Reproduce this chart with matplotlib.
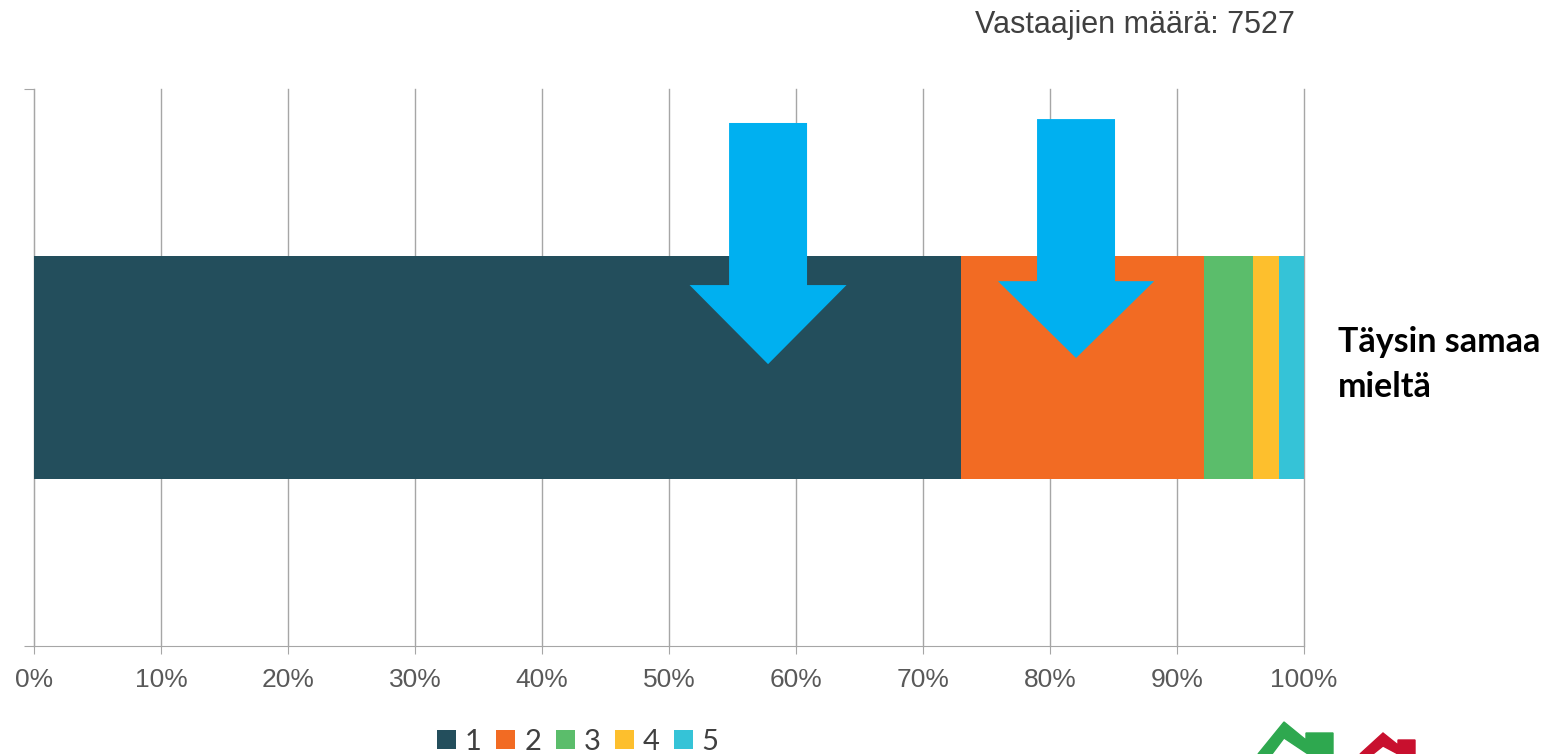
import matplotlib
matplotlib.use("Agg")
import matplotlib.pyplot as plt
from matplotlib.patches import Polygon, Patch

category = "Täysin samaa\nmieltä"
series_labels = ["1", "2", "3", "4", "5"]
values = [73.0, 19.1, 3.9, 2.0, 2.0]
colors = ["#234E5C", "#F26B23", "#5BBD6B", "#FDBF2D", "#35C3D7"]
xticks = list(range(0, 101, 10))
xtick_labels = [f"{t}%" for t in xticks]
respondents = "Vastaajien määrä: 7527"

W, H = 1547, 754
fig = plt.figure(figsize=(W / 100, H / 100), dpi=100)
ax = fig.add_axes([34 / W, (H - 646) / H, (1304 - 34) / W, (646 - 89) / H])

left = 0
for v, c, lab in zip(values, colors, series_labels):
    ax.barh(0, v, left=left, height=0.4, color=c, label=lab, zorder=3)
    left += v

ax.set_xlim(0, 100)
ax.set_ylim(-0.5, 0.5)
ax.set_xticks(xticks)
ax.set_xticklabels(xtick_labels, fontfamily="Liberation Sans", fontsize=19, color="#595959")
ax.set_yticks([-0.5, 0.5])
ax.set_yticklabels([])
ax.tick_params(axis="x", length=6, color="#A6A6A6", pad=10)
ax.tick_params(axis="y", length=7, color="#A6A6A6")
for t in xticks:
    ax.axvline(t, color="#A6A6A6", lw=1, zorder=1, clip_on=False)
for s in ["top", "right"]:
    ax.spines[s].set_visible(False)
for s in ["left", "bottom"]:
    ax.spines[s].set_color("#A6A6A6")

# category label on right
ax.text(1.027, 0.505, category, transform=ax.transAxes, fontfamily="Lato",
        fontweight="bold", fontsize=24.5, va="center", ha="left", linespacing=1.5)

# blue arrows
def down_arrow(cx, top, base, tip, shaft_half, head_half):
    pts = [(cx - shaft_half, top), (cx + shaft_half, top), (cx + shaft_half, base),
           (cx + head_half, base), (cx, tip), (cx - head_half, base),
           (cx - shaft_half, base)]
    ax.add_patch(Polygon(pts, closed=True, color="#00B0F0", zorder=5, lw=0))

down_arrow(57.8, 0.439, 0.148, 0.006, 3.07, 6.18)
down_arrow(82.05, 0.446, 0.155, 0.017, 3.07, 6.15)

fig.text(1295 / W, 1 - 25 / H, respondents, ha="right", va="center",
         fontfamily="Liberation Sans", fontsize=22, color="#404040")

handles = [Patch(facecolor=c, label=l) for c, l in zip(colors, series_labels)]
fig.legend(handles=handles, loc="center", bbox_to_anchor=(578 / W, 1 - 742 / H),
           ncol=5, frameon=False, handlelength=0.65, handleheight=0.65,
           handletextpad=0.3, columnspacing=0.5,
           prop={"family": "Lato", "size": 21}, labelcolor="#404040")

# logo fragments (bottom right)
fig.patches.append(Polygon([(1258 / W, 0), (1284 / W, 1 - 722 / H), (1306 / W, 1 - 740 / H),
                            (1306 / W, 1 - 733 / H), (1333 / W, 1 - 733 / H), (1333 / W, 0),
                            (1308 / W, 0), (1284 / W, 1 - 738 / H), (1272 / W, 0)],
                           closed=True, transform=fig.transFigure, color="#2EA84F"))
fig.patches.append(Polygon([(1360 / W, 0), (1383 / W, 1 - 733 / H), (1398 / W, 1 - 745 / H),
                            (1398 / W, 1 - 740 / H), (1415 / W, 1 - 740 / H), (1415 / W, 0),
                            (1398 / W, 0), (1383 / W, 1 - 746 / H), (1373 / W, 0)],
                           closed=True, transform=fig.transFigure, color="#C8102E"))

fig.savefig("out.png", dpi=100)
